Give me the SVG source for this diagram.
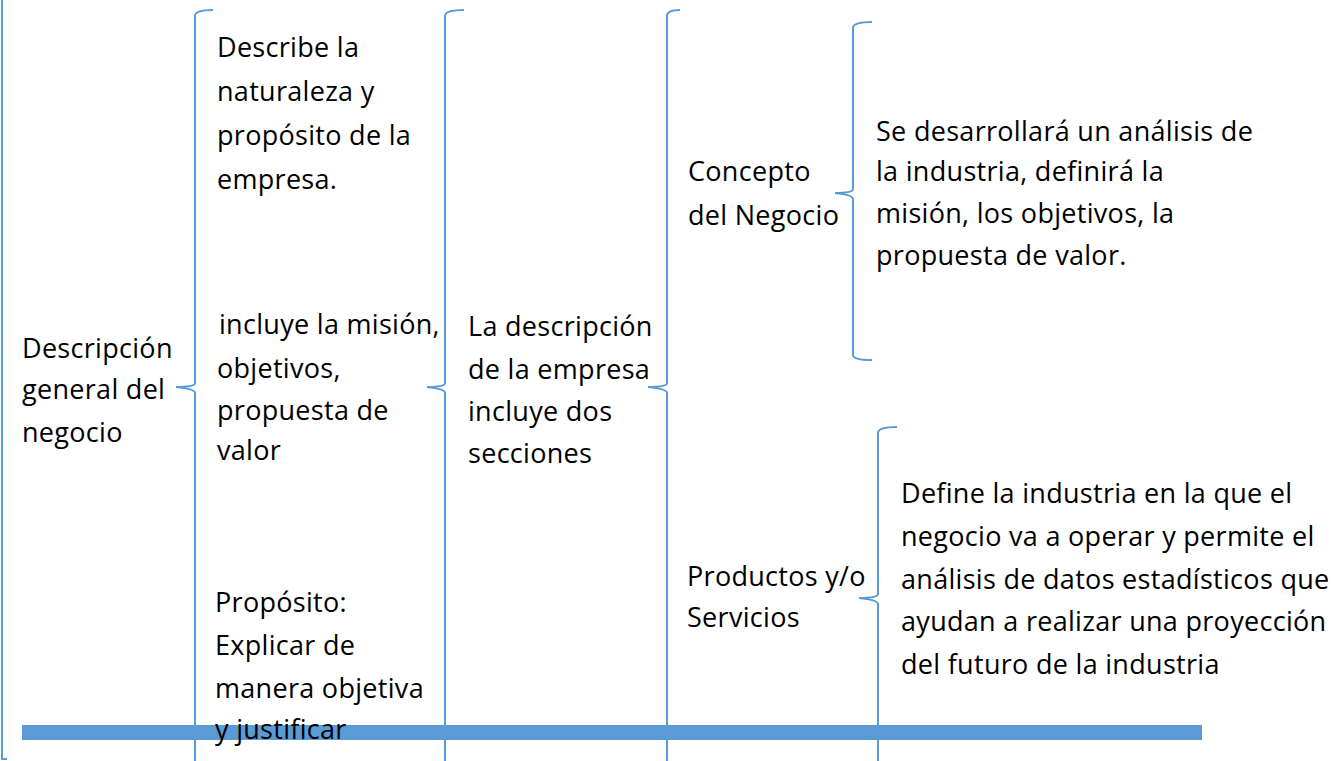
<svg xmlns="http://www.w3.org/2000/svg" width="1335" height="761" viewBox="0 0 1335 761">
<style>
.br{fill:none;stroke:#5b9bd5;stroke-width:2}
text{font-family:"Open Sans",Lato,sans-serif;font-size:27px;letter-spacing:0.3px;fill:#000}
</style>
<rect width="1335" height="761" fill="#fff"/>
<g id="connectors">
<path class="br" d="M2,0 L2,759 L7,759"/>
<path class="br" d="M213,10 Q195,10 195,16 L195,383 Q195,387 176,387 Q195,389 195,393 L195,770"/>
<path class="br" d="M464,10 Q445,10 445,16 L445,383 Q445,387 427,387 Q445,389 445,393 L445,770"/>
<path class="br" d="M680,10 Q667,10 667,16 L667,383 Q667,387 648,387 Q667,389 667,393 L667,770"/>
<path class="br" d="M872,22 Q853,22 853,28 L853,189 Q853,193 835,193 Q853,195 853,199 L853,355 Q853,360 872,360"/>
<path class="br" d="M897,427 Q878,427 878,433 L878,594 Q878,598 859,598 Q878,600 878,604 L878,770"/>
</g>
<rect id="bar" x="22" y="725" width="1180" height="15" fill="#5b9bd5"/>
<g id="n1"><text x="22" y="358">Descripción</text><text x="22" y="399">general del</text><text x="22" y="442">negocio</text></g>
<g id="n2"><text x="217" y="57">Describe la</text><text x="217" y="101">naturaleza y</text><text x="217" y="145">propósito de la</text><text x="217" y="189">empresa.</text></g>
<g id="n3"><text x="219" y="334">incluye la misión,</text><text x="217" y="378">objetivos,</text><text x="217" y="420">propuesta de</text><text x="217" y="460">valor</text></g>
<g id="n4"><text x="215" y="612">Propósito:</text><text x="215" y="655">Explicar de</text><text x="215" y="698">manera objetiva</text><text x="215" y="739">y justificar</text></g>
<g id="n5"><text x="468" y="336">La descripción</text><text x="468" y="379">de la empresa</text><text x="468" y="421">incluye dos</text><text x="468" y="463">secciones</text></g>
<g id="n6"><text x="688" y="181">Concepto</text><text x="688" y="225">del Negocio</text></g>
<g id="n7"><text x="687" y="586">Productos y/o</text><text x="687" y="627">Servicios</text></g>
<g id="n8"><text x="876" y="141">Se desarrollará un análisis de</text><text x="876" y="181">la industria, definirá la</text><text x="876" y="223">misión, los objetivos, la</text><text x="876" y="265">propuesta de valor.</text></g>
<g id="n9"><text x="901" y="503">Define la industria en la que el</text><text x="901" y="546">negocio va a operar y permite el</text><text x="901" y="589">análisis de datos estadísticos que</text><text x="901" y="631">ayudan a realizar una proyección</text><text x="901" y="674">del futuro de la industria</text></g>
</svg>
